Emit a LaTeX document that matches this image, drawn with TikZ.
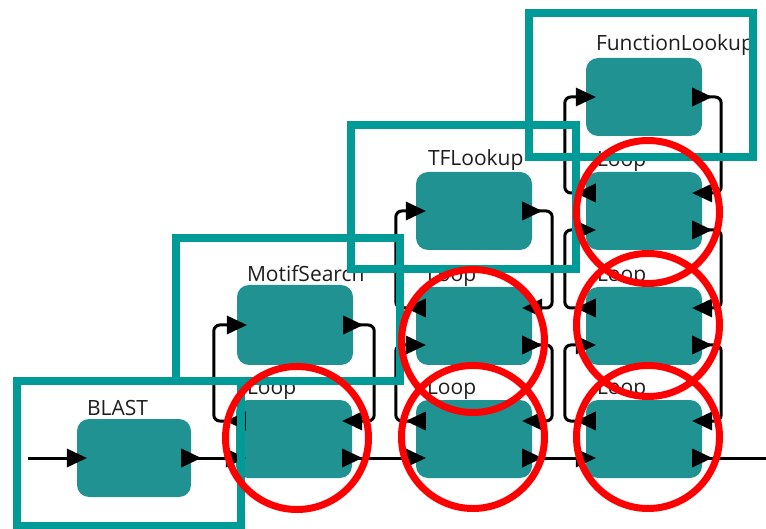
\documentclass[tikz,border=0pt]{standalone}
\usepackage{fontspec}
\setmainfont{Open Sans}
\usetikzlibrary{calc}
\definecolor{boxteal}{RGB}{32,146,146}
\definecolor{hiteal}{RGB}{0,155,150}
\definecolor{txtgray}{RGB}{30,30,30}
\definecolor{ringred}{RGB}{255,0,0}
\tikzset{
  stage/.style={rectangle, rounded corners=12pt, fill=boxteal, minimum width=116pt, minimum height=78pt, inner sep=0pt},
  lbl/.style={anchor=base west, inner sep=0pt, font=\fontsize{21}{24}\selectfont, text=txtgray},
  wire/.style={draw=black, line width=3pt, rounded corners=6pt},
  hibox/.style={draw=hiteal, line width=7.5pt},
  ring/.style={draw=ringred, line width=7pt},
}
\newcommand\tipRight[1]{\fill[black] ($#1+(-10,-9.5)$) -- ($#1+(10,0)$) -- ($#1+(-10,9.5)$) -- cycle;}
\newcommand\tipLeft[1]{\fill[black] ($#1+(10,-9.5)$) -- ($#1+(-10,0)$) -- ($#1+(10,9.5)$) -- cycle;}
\begin{document}
\begin{tikzpicture}[x=1pt,y=-1pt]
\useasboundingbox (0,0) rectangle (766,529);
% boxes
\node[stage, minimum width=114pt] (blast) at (134,458) {};
\node[stage] (m13) at (294,439) {};
\node[stage, minimum height=80pt] (motif) at (295,325) {};
\node[stage] (m23) at (474,439) {};
\node[stage] (m22) at (474,326) {};
\node[stage] (tf) at (474,211) {};
\node[stage] (m33) at (644,439) {};
\node[stage] (m32) at (644,326) {};
\node[stage] (m31) at (644,211) {};
\node[stage] (fl) at (644,97) {};
% ports
\foreach \m in {m13,m23,m22,m33,m32,m31}{
  \coordinate (\m-li) at ($(\m.west)+(0,19)$);
  \coordinate (\m-lo) at ($(\m.west)+(0,-18)$);
  \coordinate (\m-ri) at ($(\m.east)+(0,-18)$);
  \coordinate (\m-ro) at ($(\m.east)+(0,19)$);
}
% labels
\node[lbl] (tblast) at ($(blast.north west)+(10,-3)$) {BLAST};
\node[lbl] (tmotif) at ($(motif.north west)+(10,-3)$) {MotifSearch};
\node[lbl] (ttf) at ($(tf.north west)+(12,-6)$) {TFLookup};
\node[lbl] (tfl) at ($(fl.north west)+(10,-7)$) {FunctionLookup};
\foreach \m in {m13,m23,m22,m33,m32,m31}{
  \node[lbl] (t\m) at ($(\m.north west)+(11,-5)$) {Loop};
}
% wires
\coordinate (start) at (28,458);
\coordinate (finish) at (766,458);
\draw[wire] (start) -- (blast.west);
\draw[wire] (blast.east) -- (m13-li);
\draw[wire] (m13-lo) -- ++(-22,0) |- (motif.west);
\draw[wire] (motif.east) -- ++(21,0) |- (m13-ri);
\draw[wire] (m13-ro) -- (m23-li);
\draw[wire] (m23-lo) -- ++(-20,0) |- (m22-li);
\draw[wire] (m22-lo) -- ++(-20,0) |- (tf.west);
\draw[wire] (tf.east) -- ++(20,0) |- (m22-ri);
\draw[wire] (m22-ro) -- ++(20,0) |- (m23-ri);
\draw[wire] (m23-ro) -- (m33-li);
\draw[wire] (m33-lo) -- ++(-21,0) |- (m32-li);
\draw[wire] (m32-lo) -- ++(-21,0) |- (m31-li);
\draw[wire] (m31-lo) -- ++(-21,0) |- (fl.west);
\draw[wire] (fl.east) -- ++(19,0) |- (m31-ri);
\draw[wire] (m31-ro) -- ++(19,0) |- (m32-ri);
\draw[wire] (m32-ro) -- ++(19,0) |- (m33-ri);
\draw[wire] (m33-ro) -- (finish);
% arrow tips
\tipRight{(blast.west)} \tipRight{(blast.east)}
\tipRight{(motif.west)} \tipRight{(motif.east)}
\tipRight{(tf.west)} \tipRight{(tf.east)}
\tipRight{(fl.west)} \tipRight{(fl.east)}
\foreach \m in {m13,m23,m22,m33,m32,m31}{
  \tipRight{(\m-li)} \tipLeft{(\m-lo)} \tipLeft{(\m-ri)} \tipRight{(\m-ro)}
}
% highlight frames
\draw[hibox] (17,381) rectangle (241,525.5);
\draw[hibox] (176,238) rectangle (400,381);
\draw[hibox] (351,125) rectangle (576,269);
\draw[hibox] (529,13) rectangle (753,157);
% red rings
\draw[ring] (297,438) circle[radius=71.5pt];
\draw[ring] (473,437) circle[radius=71.5pt];
\draw[ring] (473,341) circle[radius=71.5pt];
\draw[ring] (648,437) circle[radius=71.5pt];
\draw[ring] (648,325) circle[radius=71.5pt];
\draw[ring] (648,212) circle[radius=71.5pt];
\end{tikzpicture}
\end{document}
